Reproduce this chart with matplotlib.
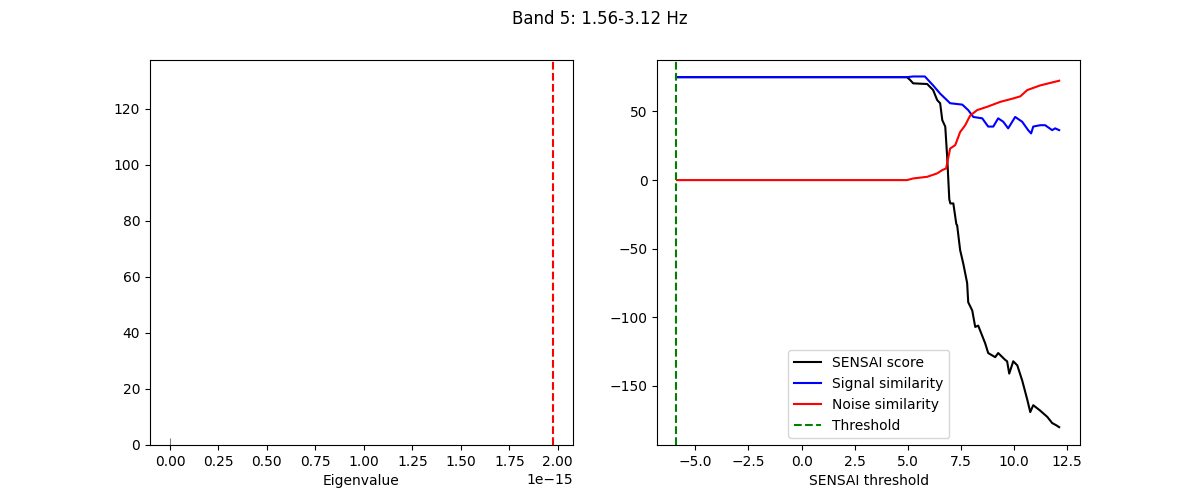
import matplotlib
matplotlib.use("Agg")
import matplotlib.pyplot as plt

# left panel: eigenvalue histogram (all values ~0) + cutoff line
eig_pos = [0.0]
eig_count = [2.5]
eig_cut = 1.975e-15

# right panel: SENSAI curves vs threshold
threshold = -5.9

t_sensai = [-5.86, 4.96, 5.11, 5.25, 5.91, 6.19, 6.38, 6.52, 6.62, 6.76, 6.85, 6.95,
            7.0, 7.14, 7.28, 7.32, 7.46, 7.61, 7.79, 7.84, 8.03, 8.17, 8.31, 8.64,
            8.78, 9.11, 9.25, 9.58, 9.67, 9.77, 9.96, 10.15, 10.38, 10.62, 10.76,
            10.90, 11.23, 11.56, 11.79, 11.98, 12.12]
sensai = [75, 75, 72.9, 70.5, 70, 65.6, 58.3, 56, 43.7, 39, 17, -14,
          -17, -17, -32, -33, -51, -61, -75, -89, -95, -107, -106, -119,
          -126, -129, -126, -131, -132, -141, -132, -135, -146, -160, -169,
          -164, -168, -172.5, -177, -178.6, -180]

t_signal = [-5.86, 4.96, 5.25, 5.8, 6.19, 6.52, 6.99, 7.56, 7.84, 8.08, 8.50, 8.78,
            9.02, 9.25, 9.49, 9.72, 10.05, 10.38, 10.66, 10.80, 10.90, 11.23, 11.46,
            11.79, 11.93, 12.12]
signal = [75, 75, 75.5, 75.5, 69, 63, 56, 55, 51, 46, 45, 39,
          39, 45, 42.5, 37.7, 46, 42.5, 36.4, 34, 39, 40, 40,
          36.4, 37.7, 36.4]

t_noise = [-5.86, 4.96, 5.25, 5.91, 6.38, 6.62, 6.80, 6.99, 7.23, 7.46, 7.70, 7.93,
           8.26, 8.73, 9.35, 9.96, 10.29, 10.62, 11.23, 12.12]
noise = [0, 0, 1.2, 2.4, 4.9, 7.3, 8.5, 23, 25.5, 35, 40, 47,
         51, 53.4, 57, 59.5, 61, 65.6, 69, 72.4]

fig, (ax1, ax2) = plt.subplots(1, 2, figsize=(12, 5), dpi=100)
fig.suptitle("Band 5: 1.56-3.12 Hz")

ax1.vlines(eig_pos, 0, eig_count, color="gray", linewidth=0.8)
ax1.axvline(eig_cut, color="red", linestyle="--")
ax1.set_xlim(-0.103e-15, 2.077e-15)
ax1.set_ylim(0, 137.5)
ax1.set_xlabel("Eigenvalue")

ax2.plot(t_sensai, sensai, color="black", label="SENSAI score")
ax2.plot(t_signal, signal, color="blue", label="Signal similarity")
ax2.plot(t_noise, noise, color="red", label="Noise similarity")
ax2.axvline(threshold, color="green", linestyle="--", label="Threshold")
ax2.set_xlim(-6.79, 13.1)
ax2.set_ylim(-193, 87.5)
ax2.set_xlabel("SENSAI threshold")
ax2.legend(loc="lower center")

plt.savefig("out.png")
